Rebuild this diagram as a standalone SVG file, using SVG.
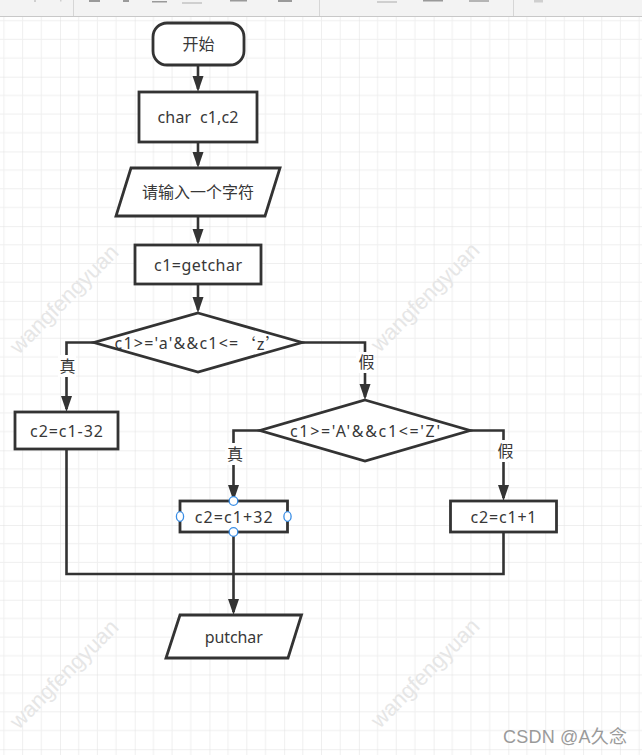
<svg xmlns="http://www.w3.org/2000/svg" width="642" height="755" viewBox="0 0 642 755">
  <style>
    .shape { fill: #ffffff; stroke: #333333; stroke-width: 2.8; }
    .conn { fill: none; stroke: #333333; stroke-width: 2.6; }
    .txt { font-family: "Noto Sans", "Noto Sans CJK SC", sans-serif; font-size: 16px; fill: #383838; text-anchor: middle; dominant-baseline: central; }
    .lblbg { fill: #ffffff; }
    .wm { font-family: "Liberation Sans", sans-serif; font-size: 22px; fill: #e6e6e6; text-anchor: middle; dominant-baseline: central; }
    .handle { fill: #ffffff; stroke: #3a8ee6; stroke-width: 1.3; }
    .tb { fill: #9a9a9a; }
    .tbl { fill: #cfcfcf; }
  </style>
  <defs>
    <pattern id="grid" patternUnits="userSpaceOnUse" x="60" y="76.7" width="74.72" height="74.72">
      <path d="M18.68,0 V74.72 M37.36,0 V74.72 M56.04,0 V74.72 M0,18.68 H74.72 M0,37.36 H74.72 M0,56.04 H74.72" fill="none" stroke="#efefef" stroke-width="1"/>
      <path d="M0,0 V74.72 M0,0 H74.72" fill="none" stroke="#e0e0e0" stroke-width="1"/>
    </pattern>
    <marker id="arrow" markerUnits="userSpaceOnUse" markerWidth="16" markerHeight="12" viewBox="0 0 16 12" refX="13" refY="6" orient="auto">
      <path d="M0,0.5 L16,6 L0,11.5 Z" fill="#333333"/>
    </marker>
  </defs>

  <!-- background grid -->
  <rect x="0" y="0" width="642" height="755" fill="#ffffff"/>
  <rect x="0" y="0" width="642" height="755" fill="url(#grid)"/>

  <!-- toolbar -->
  <g id="toolbar">
    <rect x="0" y="0" width="642" height="16.5" fill="#f3f3f3"/>
    <line x1="0" y1="16.5" x2="642" y2="16.5" stroke="#c8c8c8" stroke-width="1"/>
    <line x1="73.5" y1="0" x2="73.5" y2="16" stroke="#d6d6d6" stroke-width="1"/>
    <line x1="319.5" y1="0" x2="319.5" y2="16" stroke="#d6d6d6" stroke-width="1"/>
    <line x1="513.5" y1="0" x2="513.5" y2="16" stroke="#d6d6d6" stroke-width="1"/>
    <rect class="tbl" x="34" y="0" width="2" height="2"/>
    <rect class="tbl" x="60" y="0" width="1.5" height="1.5"/>
    <rect class="tb" x="89" y="0" width="11" height="2"/>
    <rect class="tb" x="123" y="0" width="6" height="2"/>
    <rect class="tb" x="152" y="1" width="15" height="1.5"/>
    <rect class="tbl" x="182" y="2" width="20" height="2"/>
    <rect class="tb" x="230" y="0" width="17" height="1.5"/>
    <rect class="tb" x="278" y="0" width="14" height="2"/>
    <rect class="tbl" x="377" y="1" width="20" height="2"/>
    <rect class="tb" x="423" y="0" width="20" height="1.5"/>
    <rect class="tb" x="469" y="0" width="20" height="2" opacity="0.7"/>
    <rect class="tbl" x="534" y="0" width="9" height="2.5"/>
  </g>

  <!-- watermarks -->
  <g id="watermarks">
    <text class="wm" transform="translate(64,299) rotate(-45)">wangfengyuan</text>
    <text class="wm" transform="translate(425,297) rotate(-45)">wangfengyuan</text>
    <text class="wm" transform="translate(64,674) rotate(-45)">wangfengyuan</text>
    <text class="wm" transform="translate(425,673) rotate(-45)">wangfengyuan</text>
  </g>

  <!-- connectors -->
  <g id="connectors">
    <path class="conn" d="M198,65 V89" marker-end="url(#arrow)"/>
    <path class="conn" d="M198,142 V165" marker-end="url(#arrow)"/>
    <path class="conn" d="M198,216 V242" marker-end="url(#arrow)"/>
    <path class="conn" d="M198,284 V310" marker-end="url(#arrow)"/>
    <path class="conn" d="M94,342.5 H66.5 V409" marker-end="url(#arrow)"/>
    <path class="conn" d="M302,342.5 H365 V397" marker-end="url(#arrow)"/>
    <path class="conn" d="M260,430.5 H233.5 V498" marker-end="url(#arrow)"/>
    <path class="conn" d="M470,430.5 H503.5 V498" marker-end="url(#arrow)"/>
    <path class="conn" d="M233.5,532 V612" marker-end="url(#arrow)"/>
    <path class="conn" d="M66.5,449 V574 H503.5 V532" stroke-width="2.3"/>
    <g id="edge-labels">
      <rect class="lblbg" x="58" y="355" width="18" height="22"/>
      <text class="txt" x="67.5" y="366">真</text>
      <rect class="lblbg" x="356" y="352" width="18" height="21"/>
      <text class="txt" x="366.5" y="362">假</text>
      <rect class="lblbg" x="225" y="443" width="18" height="22"/>
      <text class="txt" x="235" y="454">真</text>
      <rect class="lblbg" x="495" y="440" width="18" height="22"/>
      <text class="txt" x="505.5" y="450.5">假</text>
    </g>
  </g>

  <!-- nodes -->
  <g id="start">
    <rect class="shape" x="153" y="23" width="91" height="42" rx="14" ry="14"/>
    <text class="txt" x="198.5" y="44">开始</text>
  </g>
  <g id="declare">
    <rect class="shape" x="139" y="92" width="118" height="50"/>
    <text class="txt" x="198" y="117" textLength="81" lengthAdjust="spacing" xml:space="preserve">char  c1,c2</text>
  </g>
  <g id="input-prompt">
    <polygon class="shape" points="131,168 280,168 265,216 116,216"/>
    <text class="txt" x="198" y="192">请输入一个字符</text>
  </g>
  <g id="getchar">
    <rect class="shape" x="135" y="245" width="126" height="39"/>
    <text class="txt" x="198" y="264.5" textLength="88" lengthAdjust="spacing">c1=getchar</text>
  </g>
  <g id="decision-lower">
    <polygon class="shape" points="198,313 302,342.5 198,372 94,342.5"/>
    <text class="txt" x="198" y="342.5" textLength="167" lengthAdjust="spacing">c1&gt;='a'&amp;&amp;c1&lt;=<tspan font-family="Noto Sans CJK SC">‘z’</tspan></text>
  </g>
  <g id="to-upper">
    <rect class="shape" x="15" y="412" width="103" height="37"/>
    <text class="txt" x="66.5" y="430.5" textLength="73" lengthAdjust="spacing">c2=c1-32</text>
  </g>
  <g id="decision-upper">
    <polygon class="shape" points="365,400 470,430.5 365,461 260,430.5"/>
    <text class="txt" x="365" y="430.5" textLength="150" lengthAdjust="spacing">c1&gt;='A'&amp;&amp;c1&lt;='Z'</text>
  </g>
  <g id="to-lower">
    <rect class="shape" x="180" y="501" width="107.5" height="31"/>
    <text class="txt" x="233.75" y="516.5" textLength="78" lengthAdjust="spacing">c2=c1+32</text>
    <circle class="handle" cx="233.5" cy="501" r="4.3"/>
    <circle class="handle" cx="233.5" cy="532" r="4.3"/>
    <ellipse class="handle" cx="180" cy="516.5" rx="3.6" ry="4.8"/>
    <ellipse class="handle" cx="287.5" cy="516.5" rx="3.6" ry="4.8"/>
  </g>
  <g id="plus-one">
    <rect class="shape" x="450.5" y="501" width="106" height="31"/>
    <text class="txt" x="503.5" y="516.5" textLength="66" lengthAdjust="spacing">c2=c1+1</text>
  </g>
  <g id="output">
    <polygon class="shape" points="180,615 301.5,615 288,658 166,658"/>
    <text class="txt" x="233.75" y="636.5" textLength="58" lengthAdjust="spacing">putchar</text>
  </g>

  <!-- credit -->
  <text x="503" y="743" font-family="Liberation Sans, Noto Sans CJK SC, sans-serif" font-size="18" fill="#9a9a9a" textLength="124" lengthAdjust="spacing">CSDN @A久念</text>
</svg>
